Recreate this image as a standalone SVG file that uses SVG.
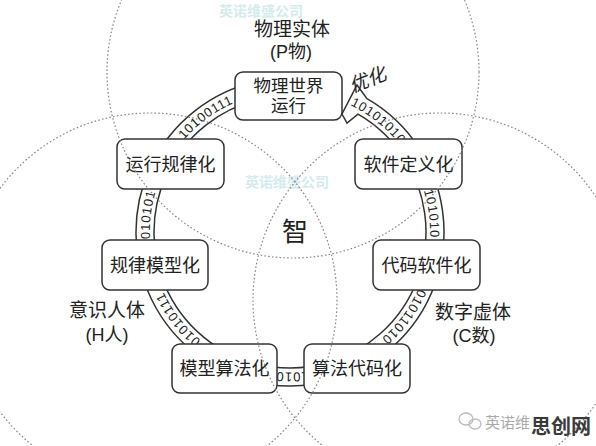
<svg xmlns="http://www.w3.org/2000/svg" width="596" height="446" viewBox="0 0 596 446">
<style>
.box{fill:#fff;stroke:#333;stroke-width:1.5}
.t{font-family:"Liberation Sans","Noto Sans CJK SC",sans-serif;fill:#222;text-anchor:middle}
.bt{font-size:18px}
.lb{font-size:19px}
.bin{font-family:"Liberation Sans",sans-serif;font-size:13px;fill:#222;letter-spacing:0.8px}
.venn{fill:none;stroke:#888;stroke-width:1.2;stroke-dasharray:1.6 2.2}
.wm{font-family:"Liberation Sans","Noto Sans CJK SC",sans-serif;font-weight:bold;font-size:14px;fill:#d4ecee;text-anchor:middle}
</style>
<defs>
<path id="ringText" d="M 154.16 265.87 A 140 140 0 1 1 425.84 198.13 A 140 140 0 1 1 154.16 265.87"/>
</defs>
<rect width="596" height="446" fill="#fff"/>
<g id="watermarks">
<text class="wm" x="261" y="16">英诺维盛公司</text>
<text class="wm" x="287" y="187">英诺维盛公司</text>
</g>
<g id="connectors">
<path d="M 411.61 153.03 A 145 145 0 1 1 327.53 91.94" fill="none" stroke="#333" stroke-width="19.5"/>
<path d="M 411.61 153.03 A 145 145 0 1 1 327.53 91.94" fill="none" stroke="#fff" stroke-width="16.5"/>
<path d="M 419.16 148.13 A 154 154 0 0 0 367 98.63 L 357 85 L 342 114 L 347 123 L 358 114.22 A 136 136 0 0 1 404.06 157.93 Z" fill="#fff" stroke="#333" stroke-width="1.5" stroke-linejoin="miter"/>
<text class="bin"><textPath href="#ringText" startOffset="51.3" text-anchor="middle">010101</textPath></text>
<text class="bin"><textPath href="#ringText" startOffset="165.7" text-anchor="middle">10100111</textPath></text>
<text class="bin"><textPath href="#ringText" startOffset="349" text-anchor="middle">10101010</textPath></text>
<text class="bin"><textPath href="#ringText" startOffset="456.9" text-anchor="middle">101010</textPath></text>
<text class="bin"><textPath href="#ringText" startOffset="564.7" text-anchor="middle">01011010</textPath></text>
<text class="bin"><textPath href="#ringText" startOffset="693.4" text-anchor="middle">1010</textPath></text>
<text class="bin"><textPath href="#ringText" startOffset="823.2" text-anchor="middle">01010111</textPath></text>
<text class="t" font-size="19" font-style="italic" transform="translate(370 86) rotate(-22)">优化</text>
</g>
<g id="node-top">
<rect class="box" x="235" y="72" width="107" height="48" rx="8"/>
<text class="t" font-size="17.5" x="288.5" y="92">物理世界</text>
<text class="t" font-size="17.5" x="288.5" y="112">运行</text>
</g>
<g id="node-yxglh">
<rect class="box" x="117" y="139" width="107" height="50" rx="8"/>
<text class="t bt" x="170.5" y="170.5">运行规律化</text>
</g>
<g id="node-glmxh">
<rect class="box" x="102" y="240" width="106" height="50" rx="8"/>
<text class="t bt" x="155" y="271.5">规律模型化</text>
</g>
<g id="node-rjdyh">
<rect class="box" x="355" y="139" width="107" height="50" rx="8"/>
<text class="t bt" x="408.5" y="170.5">软件定义化</text>
</g>
<g id="node-dmrjh">
<rect class="box" x="373" y="240" width="107" height="50" rx="8"/>
<text class="t bt" x="426.5" y="271.5">代码软件化</text>
</g>
<g id="node-mxsfh">
<rect class="box" x="172" y="344" width="105" height="49" rx="8"/>
<text class="t bt" x="224.5" y="374.5">模型算法化</text>
</g>
<g id="node-sfdmh">
<rect class="box" x="304" y="344" width="106" height="49" rx="8"/>
<text class="t bt" x="357" y="374.5">算法代码化</text>
</g>
<g id="labels">
<text class="t lb" x="292" y="36">物理实体</text>
<text class="t" font-size="18" x="291" y="58">(P物)</text>
<text class="t lb" x="107" y="317">意识人体</text>
<text class="t" font-size="18" x="107" y="340.5">(H人)</text>
<text class="t lb" x="473" y="319">数字虚体</text>
<text class="t" font-size="18" x="474" y="341.5">(C数)</text>
<text class="t" font-size="26" x="295" y="241">智</text>
</g>
<g id="venn">
<circle class="venn" cx="293" cy="72" r="186"/>
<circle class="venn" cx="150" cy="300" r="187"/>
<circle class="venn" cx="440" cy="300" r="187"/>
</g>
<g id="footer">
<ellipse cx="466" cy="419" rx="7" ry="6" fill="none" stroke="#bbb" stroke-width="1.3"/>
<ellipse cx="475" cy="424" rx="6" ry="5" fill="none" stroke="#bbb" stroke-width="1.3"/>
<text x="485" y="428" font-family="Liberation Sans,Noto Sans CJK SC,sans-serif" font-size="15" fill="#aaa">英诺维</text>
<text x="561" y="434" font-family="Liberation Sans,Noto Sans CJK SC,sans-serif" font-size="20" font-weight="bold" fill="#3a3a3a" text-anchor="middle">思创网</text>
</g>
</svg>
